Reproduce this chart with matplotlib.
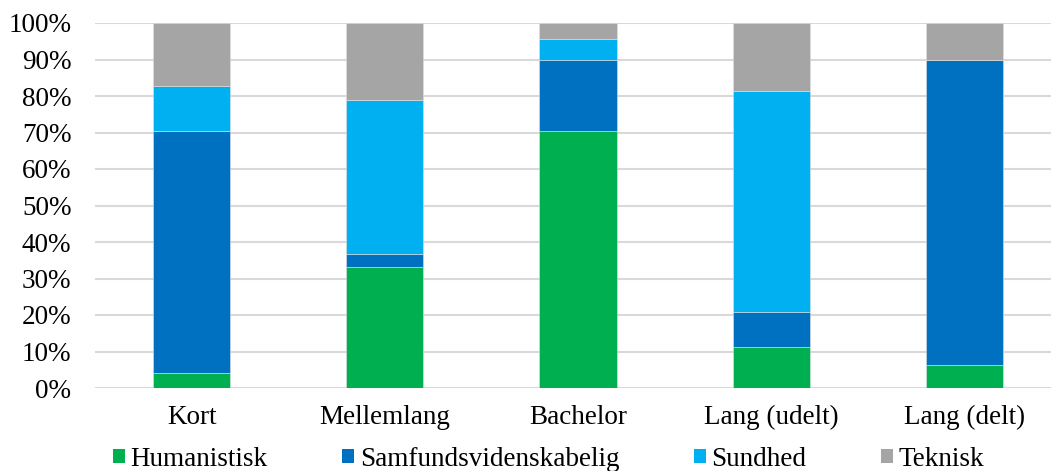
import numpy as np
import matplotlib.pyplot as plt
from matplotlib.patches import Patch
from matplotlib.ticker import PercentFormatter

categories = ['Kort', 'Mellemlang', 'Bachelor', 'Lang (udelt)', 'Lang (delt)']
series_names = ['Humanistisk', 'Samfundsvidenskabelig', 'Sundhed', 'Teknisk']
humanistisk = [4.0, 33.2, 70.4, 11.3, 6.3]
samfund = [66.5, 3.4, 19.5, 9.5, 83.5]
sundhed = [12.2, 42.3, 5.7, 60.7, 0.0]
teknisk = [17.3, 21.1, 4.4, 18.5, 10.2]
colors = ['#00B050', '#0070C0', '#00B0F0', '#A5A5A5']

plt.rcParams['font.family'] = ['Liberation Serif', 'DejaVu Serif']

W, H = 1051, 471
fig = plt.figure(figsize=(W / 100, H / 100), dpi=100)
left, right, top, bottom = 95, 1061, 23, 388
ax = fig.add_axes([left / W, 1 - bottom / H, (right - left) / W, (bottom - top) / H])

x = np.arange(len(categories))
base = np.zeros(len(categories))
for name, vals, c in zip(series_names, [humanistisk, samfund, sundhed, teknisk], colors):
    vals = np.array(vals)
    ax.bar(x, vals, 0.4, bottom=base, color=c, label=name, zorder=3,
           edgecolor='#e0e0e0', linewidth=0.4)
    base += vals

ax.set_xlim(-0.5, len(categories) - 0.5)
ax.set_ylim(0, 100)
ax.set_yticks(np.arange(0, 101, 10))
ax.yaxis.set_major_formatter(PercentFormatter(decimals=0))
ax.set_xticks(x)
ax.set_xticklabels(categories)
ax.grid(axis='y', color='#d9d9d9', linewidth=1.5, zorder=0)
for s in ax.spines.values():
    s.set_visible(False)
ax.tick_params(axis='both', length=0, labelsize=19.5, colors='black')
ax.tick_params(axis='y', pad=17)
ax.tick_params(axis='x', pad=12)

handles = [Patch(facecolor=c, label=n) for n, c in zip(series_names, colors)]
fig.legend(handles=handles, loc='center', bbox_to_anchor=(0.522, 1 - 459 / H),
           ncol=4, frameon=False, fontsize=19.5, handlelength=0.45,
           handleheight=0.45, handletextpad=0.2, columnspacing=2.75,
           borderaxespad=0, borderpad=0)

fig.savefig('out.png', dpi=100)
